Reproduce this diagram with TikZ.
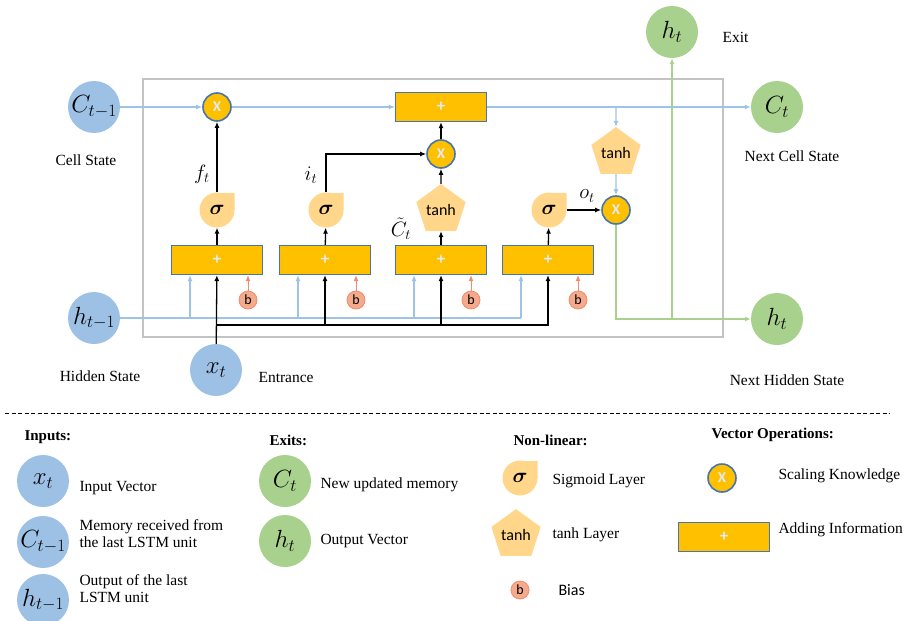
\documentclass[tikz,border=0pt]{standalone}
\usepackage{amsmath}
\usepackage{fontspec}
\setmainfont{Liberation Serif}
\newfontfamily\calib{Carlito}
\usetikzlibrary{positioning,arrows.meta,shapes.geometric}
\definecolor{inblue}{RGB}{157,193,229}
\definecolor{outgreen}{RGB}{169,209,142}
\definecolor{gold}{RGB}{255,192,0}
\definecolor{opedge}{RGB}{70,118,170}
\definecolor{plusc}{RGB}{222,235,247}
\definecolor{peach}{RGB}{255,214,138}
\definecolor{salmon}{RGB}{244,170,140}
\definecolor{salmonD}{RGB}{240,140,105}
\definecolor{flowblue}{RGB}{157,195,230}
\definecolor{flowgreen}{RGB}{169,209,142}
\definecolor{cellframe}{RGB}{195,195,195}

\begin{document}
\begin{tikzpicture}[x=1pt,y=-1pt,>={Latex[length=6pt,width=5pt]},
    state/.style={circle,inner sep=0pt,minimum size=52pt,font=\fontsize{24}{26}\selectfont},
    instate/.style={state,fill=inblue},
    outstate/.style={state,fill=outgreen},
    addbox/.style={draw=opedge,line width=1.2pt,fill=gold,minimum width=91pt,minimum height=29pt,inner sep=0pt,text=plusc,font=\calib\bfseries\fontsize{17}{17}\selectfont},
    mult/.style={circle,draw=opedge,line width=1.6pt,fill=gold,minimum size=28pt,inner sep=0pt,text=plusc,font=\calib\bfseries\fontsize{15}{15}\selectfont},
    sigm/.style={minimum size=35pt,inner sep=0pt,font=\fontsize{22}{22}\selectfont,
      path picture={\fill[peach] (path picture bounding box.center) circle (17.5pt);
        \fill[peach] (path picture bounding box.center) rectangle (path picture bounding box.north east);}},
    tanhbox/.style={regular polygon,regular polygon sides=5,minimum size=46pt,inner sep=0pt,fill=peach,font=\calib\fontsize{16}{16}\selectfont},
    bias/.style={circle,fill=salmon,draw=salmonD,line width=0.8pt,minimum size=18pt,inner sep=0pt,font=\calib\fontsize{14}{14}\selectfont},
    txt/.style={font=\fontsize{15.5}{17}\selectfont},
    gate/.style={inner sep=0pt,font=\fontsize{21}{22}\selectfont},
    hdr/.style={anchor=west,font=\bfseries\fontsize{15}{17}\selectfont},
    cellflow/.style={draw=flowblue,line width=1.3pt},
    outflow/.style={draw=flowgreen,line width=1.3pt},
    inflow/.style={line width=1.3pt},
    biasflow/.style={draw=salmonD,line width=1pt,->}]
  \useasboundingbox (0,0) rectangle (913,621);

  % cell frame
  \draw[cellframe,line width=1.2pt] (143,79) rectangle (723,337);

  % states
  \node[instate] (cprev) at (94,107) {$C_{t-1}$};
  \node[instate] (hprev) at (94,318) {$h_{t-1}$};
  \node[instate] (xin) at (216,370) {$x_t$};
  \node[outstate] (cnext) at (777,107) {$C_t$};
  \node[outstate] (hnext) at (777,319) {$h_t$};
  \node[outstate] (hexit) at (672,32) {$h_t$};
  \node[txt] (cellst) at (86,160) {Cell State};
  \node[txt] (hidst) at (100,376) {Hidden State};
  \node[txt,anchor=west] (entr) at (255,377) {Entrance};
  \node[txt] (ncellst) at (792,156) {Next Cell State};
  \node[txt] (nhidst) at (787,380) {Next Hidden State};
  \node[txt,anchor=west] (exitl) at (719,37) {Exit};

  % gate sums
  \node[addbox] (fadd) at (217,260) {+};
  \node[addbox] (iadd) at (325,260) {+};
  \node[addbox] (gadd) at (441,260) {+};
  \node[addbox] (oadd) at (548,260) {+};
  \node[addbox] (cadd) at (441,107) {+};
  \foreach \g/\bx in {f/248,i/356,g/471,o/578}
    \node[bias] (\g b) at (\bx,300) {b};

  % non-linear layers
  \node[sigm] (fsig) at (217,210) {$\boldsymbol{\sigma}$};
  \node[sigm] (isig) at (326,210) {$\boldsymbol{\sigma}$};
  \node[sigm] (osig) at (549,210) {$\boldsymbol{\sigma}$};
  \node[tanhbox] (gtanh) at (441,210) {tanh};
  \node[tanhbox] (ctanh) at (616,153) {tanh};

  % products
  \node[mult] (fmul) at (217,107) {X};
  \node[mult] (imul) at (441,154) {X};
  \node[mult] (omul) at (616,210) {X};

  % cell state line
  \draw[cellflow,->] (cprev) -- (fmul);
  \draw[cellflow,->] (fmul) -- (cadd);
  \draw[cellflow,->] (cadd) -- (cnext);
  \coordinate (tap) at (616,107);
  \draw[cellflow,->] (tap) -- (ctanh);
  \draw[cellflow,->] (ctanh) -- (omul);

  % hidden state input
  \coordinate (hbus) at (521,318);
  \draw[cellflow] (hprev) -- (hbus);
  \foreach \b in {fadd,iadd,gadd,oadd}
    \draw[cellflow,->] ([xshift=-27pt]\b.south |- hbus) -- ([xshift=-27pt]\b.south);

  % x_t input
  \coordinate (xbus) at (216,325);
  \draw[inflow,->] (xin) -- (fadd);
  \draw[inflow,->] (xbus) -| (oadd);
  \draw[inflow,->] (xbus -| iadd) -- (iadd);
  \draw[inflow,->] (xbus -| gadd) -- (gadd);

  % biases
  \foreach \g in {f,i,g,o}
    \draw[biasflow] (\g b) -- (\g b |- \g add.south);

  % gates
  \draw[inflow,->] (fadd) -- (fsig);
  \draw[inflow,->] (iadd) -- (isig);
  \draw[inflow,->] (gadd) -- (gtanh);
  \draw[inflow,->] (oadd) -- (osig);
  \draw[inflow,->] (fsig) -- (fmul);
  \draw[inflow,->] (isig) |- (imul);
  \draw[inflow,->] (gtanh) -- (imul);
  \draw[inflow,->] (imul) -- (cadd);
  \draw[inflow,->] (osig) -- (omul);
  \node[gate] (flbl) at (202,174) {$f_t$};
  \node[gate] (ilbl) at (311,175) {$i_t$};
  \node[gate] (glbl) at (401,229) {$\tilde{C}_t$};
  \node[gate] (olbl) at (587,196) {$o_t$};

  % output
  \coordinate (split) at (672,319);
  \draw[outflow,->] (omul) |- (hnext);
  \draw[outflow,->] (split) -- (hexit);

  % legend
  \draw[line width=1pt,dash pattern=on 4pt off 2.5pt] (5,413) -- (890,413);
  \node[hdr] (inhdr) at (21,437) {Inputs:};
  \node[instate] (lgx) at (43,481) {$x_t$};
  \node[txt,anchor=west] at (76,488) {Input Vector};
  \node[instate] (lgc) at (43,542) {$C_{t-1}$};
  \node[txt,anchor=west,align=left] at (76,534) {Memory received from\\the last LSTM unit};
  \node[instate] (lgh) at (43,600) {$h_{t-1}$};
  \node[txt,anchor=west,align=left] at (76,589) {Output of the last\\LSTM unit};

  \node[hdr] (exhdr) at (266,440) {Exits:};
  \node[outstate] (lgcn) at (285,481) {$C_t$};
  \node[txt,anchor=west] at (317,485) {New updated memory};
  \node[outstate] (lghn) at (285,541) {$h_t$};
  \node[txt,anchor=west] at (317,541) {Output Vector};

  \node[hdr] (nlhdr) at (510,440) {Non-linear:};
  \node[sigm] (lgsig) at (520,478) {$\boldsymbol{\sigma}$};
  \node[txt,anchor=west] at (549,481) {Sigmoid Layer};
  \node[tanhbox] (lgtanh) at (516,535) {tanh};
  \node[txt,anchor=west] at (549,535) {tanh Layer};
  \node[bias] (lgb) at (520,590) {b};
  \node[anchor=west,font=\calib\fontsize{16}{16}\selectfont] at (555,590) {Bias};

  \node[hdr] (vohdr) at (708,435) {Vector Operations:};
  \node[mult] (lgmul) at (722,478) {X};
  \node[txt,anchor=west] at (775,476) {Scaling Knowledge};
  \node[addbox] (lgadd) at (724,537) {+};
  \node[txt,anchor=west] at (775,530) {Adding Information};
\end{tikzpicture}
\end{document}
